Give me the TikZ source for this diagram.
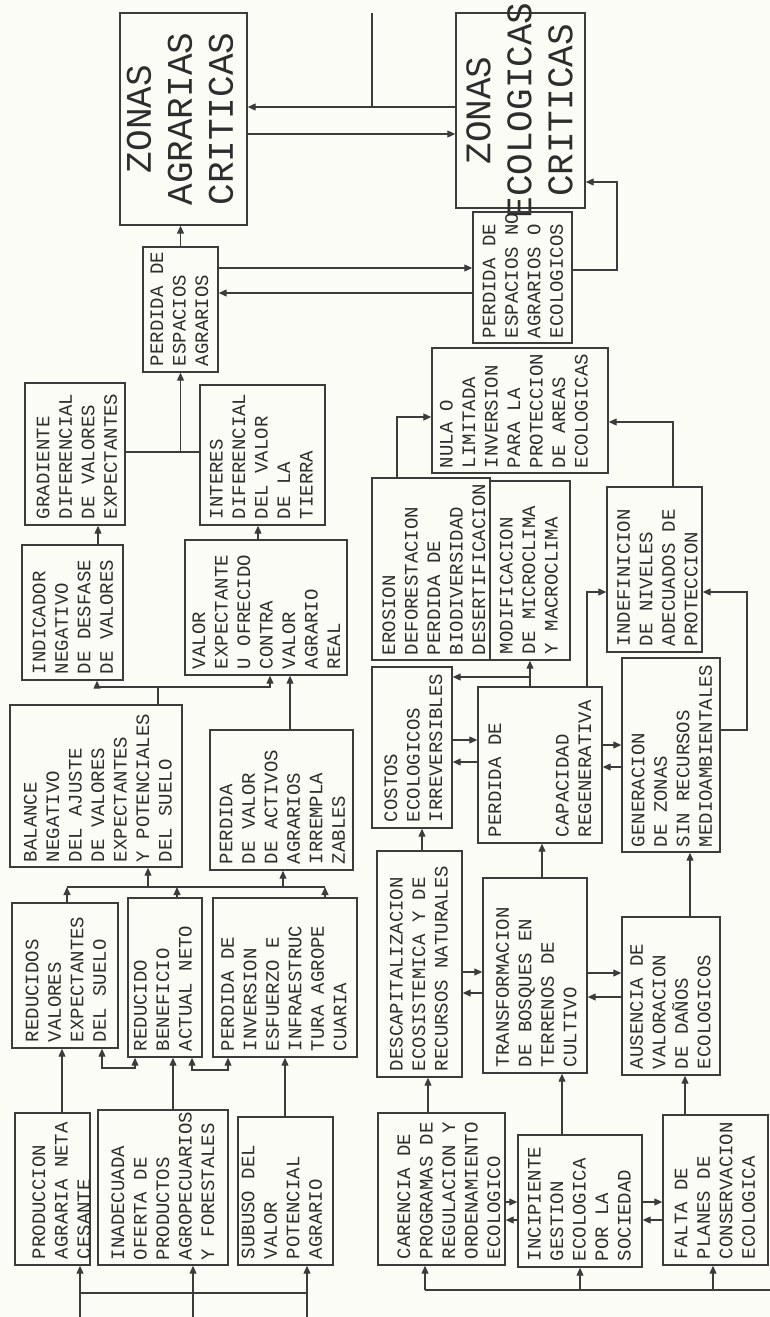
\documentclass[tikz,border=0pt]{standalone}
\usepackage{fontspec}
\usepackage{graphicx}
\usetikzlibrary{arrows.meta}
\newfontfamily\monofam{Liberation Mono}
\newcommand\txtsmall{\monofam\fontsize{19}{22.5}\selectfont}
\newcommand\txtbig{\monofam\fontsize{36}{41}\selectfont}
\newcommand\boxtxt[3][-5pt]{\rotatebox{90}{\makebox[#2][l]{\raisebox{#1}[0pt][0pt]{\txtsmall\begin{tabular}[c]{@{}l@{}}#3\end{tabular}}}}}
\newcommand\bigtxt[3][-9pt]{\rotatebox{90}{\makebox[#2][c]{\raisebox{#1}[0pt][0pt]{\txtbig\begin{tabular}[c]{@{}c@{}}#3\end{tabular}}}}}
\definecolor{linecol}{RGB}{60,60,60}
\definecolor{textcol}{RGB}{45,45,45}
\definecolor{bgcol}{RGB}{252,252,247}
\begin{document}
\begin{tikzpicture}[x=1pt,y=-1pt,
  box/.style={draw=linecol, line width=1.4pt, inner sep=0pt, text=textcol},
  ln/.style={draw=linecol, line width=1.1pt},
  arr/.style={ln, -{Triangle[length=8pt,width=7pt]}},
  arrboth/.style={ln, {Triangle[length=8pt,width=7pt]}-{Triangle[length=8pt,width=7pt]}}]
\fill[bgcol] (0,0) rectangle (770,1317);
\useasboundingbox (0,0) rectangle (770,1317);

% ---- agrarian side ----
\node[box, minimum width=127pt, minimum height=212pt] (ZA) at (183.5,119) {\bigtxt[-6.5pt]{200pt}{ZONAS\\AGRARIAS\\CRITICAS}};
\node[box, minimum width=129pt, minimum height=195pt] (ZE) at (520.5,110.5) {\bigtxt{185pt}{ZONAS\\ECOLOGICAS\\CRITICAS}};
\node[box, minimum width=75pt, minimum height=125pt] (PEA) at (180.5,309.5) {\boxtxt{113pt}{PERDIDA DE\\ESPACIOS\\AGRARIOS}};
\node[box, minimum width=99pt, minimum height=131pt] (PENA) at (522.5,277.5) {\boxtxt[-6.5pt]{121pt}{PERDIDA DE\\ESPACIOS NO\\AGRARIOS O\\ECOLOGICOS}};
\node[box, minimum width=100pt, minimum height=142pt] (GR) at (75,454) {\boxtxt[-8pt]{130pt}{GRADIENTE\\DIFERENCIAL\\DE VALORES\\EXPECTANTES}};
\node[box, minimum width=125pt, minimum height=140pt] (IN) at (262.5,455) {\boxtxt{128pt}{INTERES\\DIFERENCIAL\\DEL VALOR\\DE LA\\TIERRA}};
\node[box, minimum width=101pt, minimum height=135pt] (IND) at (72.5,612.5) {\boxtxt[-6.5pt]{123pt}{INDICADOR\\NEGATIVO\\DE DESFASE\\DE VALORES}};
\node[box, minimum width=162pt, minimum height=135pt] (VE) at (266,607.5) {\boxtxt[-6.5pt]{123pt}{VALOR\\EXPECTANTE\\U OFRECIDO\\CONTRA\\VALOR\\AGRARIO\\REAL}};
\node[box, minimum width=172pt, minimum height=162pt] (BA) at (96,786) {\boxtxt[-8pt]{152pt}{BALANCE\\NEGATIVO\\DEL AJUSTE\\DE VALORES\\EXPECTANTES\\Y POTENCIALES\\DEL SUELO}};
\node[box, minimum width=143pt, minimum height=140pt] (PVA) at (281.5,800) {\boxtxt[-7pt]{128pt}{PERDIDA\\DE VALOR\\DE ACTIVOS\\AGRARIOS\\IRREMPLA\\ZABLES}};
\node[box, minimum width=106pt, minimum height=145pt] (RV) at (65,975.5) {\boxtxt[-7pt]{133pt}{REDUCIDOS\\VALORES\\EXPECTANTES\\DEL SUELO}};
\node[box, minimum width=74pt, minimum height=159pt] (RB) at (165,977.5) {\boxtxt[-4pt]{147pt}{REDUCIDO\\BENEFICIO\\ACTUAL NETO}};
\node[box, minimum width=144pt, minimum height=159pt] (PI) at (285,977.5) {\boxtxt{147pt}{PERDIDA DE\\INVERSION\\ESFUERZO E\\INFRAESTRUC\\TURA AGROPE\\CUARIA}};
\node[box, minimum width=75pt, minimum height=152pt] (PR) at (52.5,1189) {\boxtxt[-15pt]{140pt}{PRODUCCION\\AGRARIA NETA\\CESANTE}};
\node[box, minimum width=130pt, minimum height=155pt] (INA) at (163,1187.5) {\boxtxt[-6pt]{145pt}{INADECUADA\\OFERTA DE\\PRODUCTOS\\AGROPECUARIOS\\Y FORESTALES}};
\node[box, minimum width=95pt, minimum height=148pt] (SU) at (285.5,1191) {\boxtxt[-2.5pt]{136pt}{SUBUSO DEL\\VALOR\\POTENCIAL\\AGRARIO}};

% ---- ecological side ----
\node[box, minimum width=176pt, minimum height=125pt] (NU) at (520,410.5) {\boxtxt[0pt]{115pt}{NULA O\\LIMITADA\\INVERSION\\PARA LA\\PROTECCION\\DE AREAS\\ECOLOGICAS}};
\node[box, minimum width=118pt, minimum height=182pt] (ER) at (431,569) {\boxtxt[-9pt]{172pt}{EROSION\\DEFORESTACION\\PERDIDA DE\\BIODIVERSIDAD\\DESERTIFICACION}};
\node[box, minimum width=80pt, minimum height=179pt] (MO) at (530,570.5) {\boxtxt{167pt}{MODIFICACION\\DE MICROCLIMA\\Y MACROCLIMA}};
\node[box, minimum width=95pt, minimum height=165pt] (IDF) at (654.5,569.5) {\boxtxt[-9pt]{153pt}{INDEFINICION\\DE NIVELES\\ADECUADOS DE\\PROTECCION}};
\node[box, minimum width=80pt, minimum height=161pt] (CO) at (412,747.5) {\boxtxt[-7.5pt]{149pt}{COSTOS\\ECOLOGICOS\\IRREVERSIBLES}};
\node[box, minimum width=124pt, minimum height=156pt] (PC) at (540,765) {\boxtxt[-6pt]{144pt}{PERDIDA DE\\ \\ \\CAPACIDAD\\REGENERATIVA}};
\node[box, minimum width=98pt, minimum height=194pt] (GE) at (671,755) {\boxtxt[-7pt]{184pt}{GENERACION\\DE ZONAS\\SIN RECURSOS\\MEDIOAMBIENTALES}};
\node[box, minimum width=85pt, minimum height=226pt] (DE) at (419.5,964) {\boxtxt[-5.5pt]{214pt}{DESCAPITALIZACION\\ECOSISTEMICA Y DE\\RECURSOS NATURALES}};
\node[box, minimum width=104pt, minimum height=195pt] (TR) at (535,975.5) {\boxtxt[-7.5pt]{183pt}{TRANSFORMACION\\DE BOSQUES EN\\TERRENOS DE\\CULTIVO}};
\node[box, minimum width=98pt, minimum height=158pt] (AU) at (671,996) {\boxtxt[-5.5pt]{146pt}{AUSENCIA DE\\VALORACION\\DE DAÑOS\\ECOLOGICOS}};
\node[box, minimum width=127pt, minimum height=152pt] (CA) at (441.5,1189) {\boxtxt[-13.5pt]{140pt}{CARENCIA DE\\PROGRAMAS DE\\REGULACION Y\\ORDENAMIENTO\\ECOLOGICO}};
\node[box, minimum width=124pt, minimum height=132pt] (IC) at (580,1201) {\boxtxt[-5.5pt]{120pt}{INCIPIENTE\\GESTION\\ECOLOGICA\\POR LA\\SOCIEDAD}};
\node[box, minimum width=105pt, minimum height=150pt] (FA) at (715.5,1190) {\boxtxt[-5.5pt]{138pt}{FALTA DE\\PLANES DE\\CONSERVACION\\ECOLOGICA}};

% ---- free ends ----
\coordinate (topin) at (372,13);
\coordinate (inA) at (80,1317);
\coordinate (inB) at (193,1317);
\coordinate (inC) at (307,1317);
\coordinate (inD) at (770,1290);

% ---- connectors: top ----
\draw[ln] (topin) -- (topin |- 0,107);
\draw[arr] (ZE.west |- 0,107) -- (ZA.east |- 0,107);
\draw[arr] (ZA.east |- 0,134) -- (ZE.west |- 0,134);
\draw[arr] (PEA.north) -- (PEA.north |- ZA.south);
\draw[arr] (PEA.east |- 0,268) -- (PENA.west |- 0,268);
\draw[arr] (PENA.west |- 0,293) -- (PEA.east |- 0,293);
\draw[arr] (PENA.east |- 0,270) -| (617,182) -- (ZE.east |- 0,182);

% ---- connectors: agrarian chain ----
\draw[ln] (GR.east |- 0,452) -- (IN.west |- 0,452);
\draw[arr] (PEA.south |- 0,452) -- (PEA.south);
\draw[arr] (IND.north -| 98,0) -- (GR.south -| 98,0);
\draw[arr] (VE.north -| 258,0) -- (IN.south -| 258,0);
\draw[arr] (BA.north -| 158,0) |- (97,687) -- (IND.south -| 97,0);
\draw[arr] (158,687) -| (VE.south -| 270,0);
\draw[arr] (PVA.north -| 290,0) -- (VE.south -| 290,0);
\draw[arr] (RV.north -| 67,0) -- (67,887);
\draw[arr] (RB.north -| 177,0) -- (177,887);
\draw[arr] (PI.north -| 325,0) -- (325,887);
\draw[ln] (67,887) -- (325,887);
\draw[arr] (148,887) -- (BA.south -| 148,0);
\draw[arr] (283,887) -- (PVA.south -| 283,0);
\draw[arr] (PR.north -| 62,0) -- (RV.south -| 62,0);
\draw[arr] (INA.north -| 173,0) -- (RB.south -| 173,0);
\draw[arr] (SU.north -| 285,0) -- (PI.south -| 285,0);
\draw[arrboth] (RV.south -| 102,0) |- (135,1068) -- (RB.south -| 135,0);
\draw[arrboth] (RB.south -| 192,0) |- (228,1070) -- (PI.south -| 228,0);
\draw[arr] (inA) -- (PR.south -| inA);
\draw[arr] (inB) -- (INA.south -| inB);
\draw[arr] (inC) -- (SU.south -| inC);
\draw[ln] (inA |- 0,1293) -- (inC |- 0,1293);

% ---- connectors: ecological chain ----
\draw[arr] (ER.north -| 397,0) |- (NU.west |- 0,417);
\draw[arr] (IDF.north -| 673,0) |- (NU.east |- 0,422);
\draw[arr] (PC.north -| 530,0) -- (MO.south -| 530,0);
\draw[arr] (530,677) -- (CO.east |- 0,677);
\draw[arr] (PC.north -| 587,0) |- (IDF.west |- 0,592);
\draw[arr] (GE.east |- 0,730) -| (747,592) -- (IDF.east |- 0,592);
\draw[arr] (CO.east |- 0,740) -- (PC.west |- 0,740);
\draw[arr] (PC.west |- 0,762) -- (CO.east |- 0,762);
\draw[arr] (PC.east |- 0,745) -- (GE.west |- 0,745);
\draw[arr] (GE.west |- 0,767) -- (PC.east |- 0,767);
\draw[arr] (DE.north -| 422,0) -- (CO.south -| 422,0);
\draw[arr] (TR.north -| 542,0) -- (PC.south -| 542,0);
\draw[arr] (AU.north -| 690,0) -- (GE.south -| 690,0);
\draw[arr] (DE.east |- 0,972) -- (TR.west |- 0,972);
\draw[arr] (TR.west |- 0,993) -- (DE.east |- 0,993);
\draw[arr] (TR.east |- 0,973) -- (AU.west |- 0,973);
\draw[arr] (AU.west |- 0,997) -- (TR.east |- 0,997);
\draw[arr] (CA.north -| 428,0) -- (DE.south -| 428,0);
\draw[arr] (IC.north -| 562,0) -- (TR.south -| 562,0);
\draw[arr] (FA.north -| 685,0) -- (AU.south -| 685,0);
\draw[arr] (CA.east |- 0,1202) -- (IC.west |- 0,1202);
\draw[arr] (IC.west |- 0,1220) -- (CA.east |- 0,1220);
\draw[arr] (IC.east |- 0,1202) -- (FA.west |- 0,1202);
\draw[arr] (FA.west |- 0,1220) -- (IC.east |- 0,1220);
\draw[ln] (inD) -- (425,1290);
\draw[arr] (425,1290) -- (CA.south -| 425,0);
\draw[arr] (580,1290) -- (IC.south -| 580,0);
\draw[arr] (713,1290) -- (FA.south -| 713,0);
\end{tikzpicture}
\end{document}
